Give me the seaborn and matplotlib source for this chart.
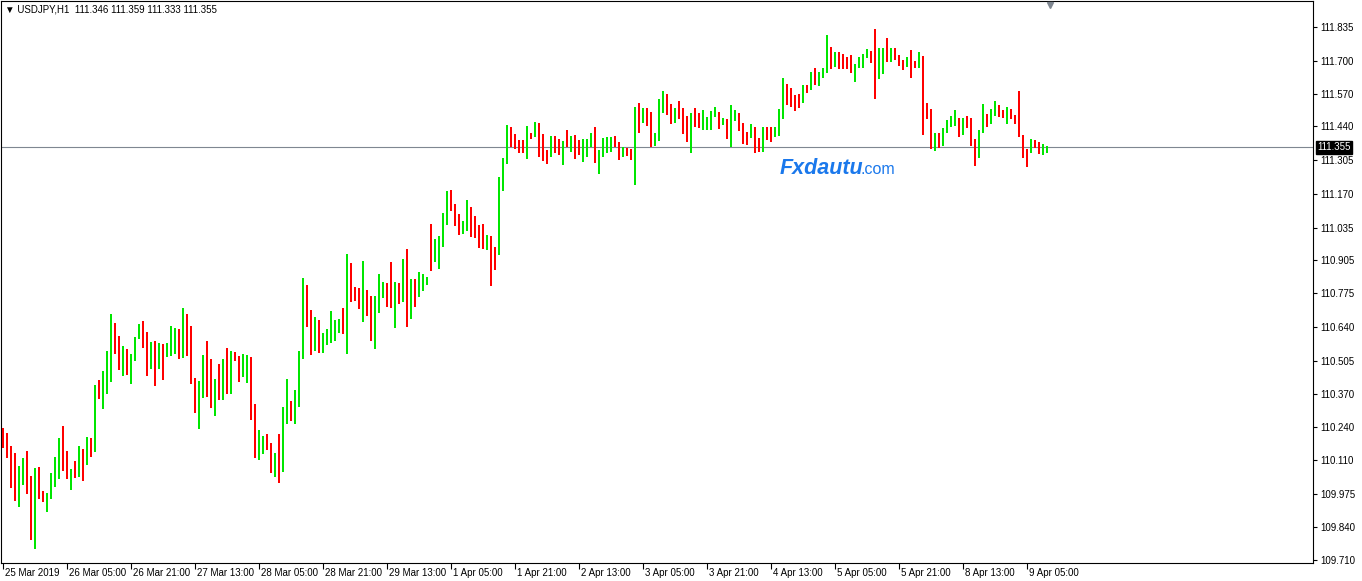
import numpy as np
import pandas as pd
import seaborn as sns
import matplotlib
matplotlib.use("Agg")
import matplotlib.pyplot as plt
from matplotlib import ticker, transforms

# USDJPY H1 candles
opens = [
    110.218, 110.166, 110.156, 110.069, 109.969, 110.062, 110.089, 110.042, 109.807, 110.053,
    109.968, 109.956, 109.966, 110.038, 110.055, 110.180, 110.089, 110.034, 110.057, 110.042,
    110.140, 110.130, 110.194, 110.142, 110.384, 110.369, 110.414, 110.473, 110.655, 110.579,
    110.489, 110.515, 110.461, 110.526, 110.595, 110.630, 110.611, 110.526, 110.571, 110.544,
    110.559, 110.540, 110.548, 110.600, 110.630, 110.537, 110.688, 110.538, 110.436, 110.305,
    110.417, 110.463, 110.398, 110.382, 110.392, 110.369, 110.491, 110.377, 110.523, 110.510,
    110.445, 110.490, 110.503, 110.308, 110.154, 110.171, 110.184, 110.168, 110.082, 110.119,
    110.075, 110.281, 110.331, 110.321, 110.351, 110.513, 110.778, 110.679, 110.551, 110.619,
    110.565, 110.570, 110.576, 110.587, 110.631, 110.659, 110.631, 110.850, 110.770, 110.770,
    110.724, 110.755, 110.747, 110.587, 110.736, 110.759, 110.798, 110.786, 110.752, 110.810,
    110.744, 110.858, 110.675, 110.825, 110.768, 110.806, 110.812, 110.998, 110.931, 110.939,
    110.987, 111.079, 111.153, 111.125, 111.085, 111.014, 111.046, 111.072, 111.050, 111.010,
    110.998, 110.949, 110.987, 110.938, 110.927, 111.193, 111.297, 111.424, 111.382, 111.382,
    111.355, 111.343, 111.410, 111.404, 111.450, 111.392, 111.345, 111.334, 111.361, 111.346,
    111.342, 111.378, 111.369, 111.391, 111.361, 111.354, 111.365, 111.374, 111.384, 111.302,
    111.329, 111.351, 111.359, 111.386, 111.375, 111.315, 111.333, 111.334, 111.310, 111.480,
    111.454, 111.501, 111.483, 111.362, 111.384, 111.511, 111.517, 111.508, 111.468, 111.508,
    111.493, 111.458, 111.411, 111.484, 111.480, 111.430, 111.426, 111.463, 111.485, 111.484,
    111.450, 111.464, 111.398, 111.481, 111.492, 111.431, 111.412, 111.400, 111.430, 111.371,
    111.355, 111.418, 111.414, 111.402, 111.404, 111.482, 111.575, 111.571, 111.556, 111.559,
    111.537, 111.601, 111.587, 111.642, 111.614, 111.637, 111.653, 111.735, 111.678, 111.721,
    111.705, 111.695, 111.686, 111.669, 111.673, 111.686, 111.718, 111.727, 111.714, 111.640,
    111.721, 111.739, 111.707, 111.734, 111.714, 111.697, 111.676, 111.682, 111.686, 111.673,
    111.719, 111.508, 111.503, 111.390, 111.406, 111.395, 111.424, 111.444, 111.450, 111.464,
    111.407, 111.468, 111.450, 111.362, 111.315, 111.420, 111.475, 111.452, 111.484, 111.516,
    111.495, 111.448, 111.489, 111.476, 111.451, 111.400, 111.346, 111.337, 111.382, 111.362,
    111.331, 111.346,
]
highs = [
    110.236, 110.216, 110.164, 110.137, 110.085, 110.117, 110.144, 110.045, 110.077, 110.081,
    109.984, 109.978, 110.055, 110.121, 110.196, 110.244, 110.144, 110.074, 110.105, 110.166,
    110.154, 110.202, 110.198, 110.408, 110.429, 110.463, 110.543, 110.691, 110.655, 110.603,
    110.563, 110.551, 110.533, 110.599, 110.651, 110.661, 110.619, 110.579, 110.582, 110.574,
    110.572, 110.575, 110.643, 110.634, 110.630, 110.715, 110.691, 110.643, 110.436, 110.424,
    110.529, 110.583, 110.511, 110.432, 110.491, 110.511, 110.555, 110.544, 110.539, 110.525,
    110.533, 110.526, 110.518, 110.331, 110.228, 110.204, 110.212, 110.178, 110.137, 110.212,
    110.319, 110.432, 110.344, 110.388, 110.543, 110.834, 110.806, 110.705, 110.680, 110.667,
    110.614, 110.631, 110.703, 110.667, 110.671, 110.715, 110.930, 110.894, 110.798, 110.794,
    110.902, 110.786, 110.763, 110.763, 110.850, 110.817, 110.814, 110.898, 110.818, 110.813,
    110.910, 110.950, 110.830, 110.829, 110.858, 110.852, 110.840, 111.050, 110.988, 111.002,
    111.092, 111.182, 111.185, 111.129, 111.088, 111.060, 111.145, 111.116, 111.080, 111.046,
    111.050, 111.006, 111.003, 110.959, 111.237, 111.313, 111.444, 111.438, 111.408, 111.384,
    111.385, 111.442, 111.411, 111.458, 111.454, 111.407, 111.345, 111.399, 111.402, 111.390,
    111.380, 111.424, 111.402, 111.406, 111.383, 111.390, 111.390, 111.411, 111.438, 111.345,
    111.394, 111.398, 111.396, 111.400, 111.378, 111.358, 111.351, 111.349, 111.515, 111.531,
    111.511, 111.512, 111.496, 111.411, 111.549, 111.580, 111.568, 111.527, 111.513, 111.539,
    111.512, 111.480, 111.491, 111.511, 111.491, 111.504, 111.475, 111.501, 111.515, 111.495,
    111.471, 111.468, 111.523, 111.503, 111.492, 111.451, 111.418, 111.450, 111.438, 111.391,
    111.438, 111.436, 111.435, 111.435, 111.507, 111.633, 111.610, 111.591, 111.564, 111.567,
    111.604, 111.606, 111.657, 111.670, 111.657, 111.673, 111.803, 111.757, 111.734, 111.737,
    111.726, 111.717, 111.723, 111.686, 111.717, 111.726, 111.746, 111.741, 111.827, 111.750,
    111.750, 111.790, 111.753, 111.753, 111.723, 111.702, 111.717, 111.743, 111.699, 111.737,
    111.719, 111.531, 111.507, 111.411, 111.412, 111.431, 111.464, 111.482, 111.504, 111.471,
    111.471, 111.482, 111.474, 111.388, 111.424, 111.529, 111.487, 111.508, 111.540, 111.524,
    111.504, 111.517, 111.508, 111.484, 111.581, 111.406, 111.349, 111.388, 111.383, 111.378,
    111.367, 111.359,
]
lows = [
    110.156, 110.118, 109.998, 109.946, 109.920, 110.009, 109.972, 109.791, 109.752, 109.952,
    109.942, 109.903, 109.952, 110.002, 110.031, 110.066, 110.031, 109.990, 110.037, 110.041,
    110.026, 110.090, 110.122, 110.142, 110.350, 110.313, 110.370, 110.421, 110.530, 110.469,
    110.443, 110.446, 110.413, 110.505, 110.592, 110.556, 110.445, 110.471, 110.405, 110.471,
    110.429, 110.521, 110.522, 110.533, 110.513, 110.517, 110.523, 110.413, 110.297, 110.233,
    110.356, 110.361, 110.317, 110.285, 110.348, 110.348, 110.372, 110.370, 110.503, 110.420,
    110.441, 110.417, 110.269, 110.118, 110.110, 110.131, 110.148, 110.058, 110.040, 110.018,
    110.062, 110.251, 110.265, 110.251, 110.319, 110.510, 110.640, 110.529, 110.543, 110.537,
    110.534, 110.567, 110.574, 110.584, 110.616, 110.612, 110.533, 110.740, 110.744, 110.712,
    110.660, 110.684, 110.584, 110.551, 110.696, 110.753, 110.720, 110.716, 110.636, 110.732,
    110.739, 110.640, 110.671, 110.720, 110.760, 110.782, 110.806, 110.864, 110.898, 110.870,
    110.959, 111.047, 111.103, 111.043, 111.004, 111.011, 111.020, 110.999, 110.994, 110.954,
    110.951, 110.946, 110.804, 110.866, 110.926, 111.180, 111.289, 111.355, 111.349, 111.334,
    111.331, 111.310, 111.387, 111.398, 111.318, 111.301, 111.290, 111.318, 111.331, 111.325,
    111.285, 111.358, 111.338, 111.310, 111.323, 111.298, 111.318, 111.357, 111.295, 111.248,
    111.318, 111.331, 111.338, 111.358, 111.305, 111.315, 111.319, 111.305, 111.206, 111.411,
    111.451, 111.442, 111.357, 111.362, 111.379, 111.491, 111.485, 111.450, 111.452, 111.468,
    111.410, 111.376, 111.334, 111.436, 111.434, 111.423, 111.424, 111.424, 111.478, 111.428,
    111.446, 111.390, 111.355, 111.459, 111.420, 111.369, 111.366, 111.391, 111.334, 111.337,
    111.338, 111.383, 111.375, 111.398, 111.400, 111.467, 111.524, 111.517, 111.501, 111.511,
    111.531, 111.572, 111.584, 111.604, 111.601, 111.633, 111.650, 111.669, 111.676, 111.669,
    111.669, 111.668, 111.650, 111.617, 111.670, 111.673, 111.713, 111.690, 111.548, 111.628,
    111.646, 111.697, 111.697, 111.705, 111.680, 111.664, 111.674, 111.632, 111.673, 111.670,
    111.406, 111.467, 111.347, 111.342, 111.351, 111.362, 111.411, 111.438, 111.442, 111.395,
    111.404, 111.431, 111.359, 111.282, 111.314, 111.411, 111.438, 111.447, 111.480, 111.478,
    111.474, 111.447, 111.468, 111.447, 111.395, 111.311, 111.278, 111.331, 111.351, 111.327,
    111.325, 111.333,
]
closes = [
    110.162, 110.158, 110.066, 109.966, 110.065, 110.089, 110.034, 109.807, 110.053, 109.966,
    109.957, 109.973, 110.037, 110.057, 110.180, 110.087, 110.034, 110.057, 110.039, 110.139,
    110.130, 110.191, 110.140, 110.384, 110.369, 110.416, 110.475, 110.659, 110.576, 110.489,
    110.519, 110.461, 110.529, 110.599, 110.627, 110.612, 110.525, 110.572, 110.542, 110.559,
    110.540, 110.551, 110.603, 110.631, 110.537, 110.685, 110.538, 110.433, 110.305, 110.420,
    110.467, 110.398, 110.382, 110.392, 110.370, 110.491, 110.377, 110.527, 110.509, 110.445,
    110.491, 110.503, 110.305, 110.154, 110.172, 110.182, 110.166, 110.082, 110.119, 110.078,
    110.288, 110.331, 110.321, 110.354, 110.515, 110.778, 110.664, 110.551, 110.619, 110.564,
    110.571, 110.579, 110.655, 110.635, 110.659, 110.631, 110.850, 110.764, 110.762, 110.724,
    110.756, 110.740, 110.587, 110.743, 110.759, 110.798, 110.780, 110.752, 110.810, 110.744,
    110.858, 110.676, 110.826, 110.768, 110.810, 110.814, 110.834, 110.927, 110.942, 110.990,
    111.086, 111.153, 111.123, 111.081, 111.014, 111.044, 111.068, 111.046, 111.011, 110.995,
    110.951, 110.990, 110.938, 110.927, 111.196, 111.299, 111.424, 111.377, 111.377, 111.350,
    111.345, 111.408, 111.402, 111.454, 111.390, 111.338, 111.334, 111.361, 111.345, 111.342,
    111.376, 111.369, 111.392, 111.357, 111.354, 111.367, 111.378, 111.383, 111.302, 111.334,
    111.354, 111.361, 111.383, 111.369, 111.318, 111.333, 111.329, 111.309, 111.480, 111.454,
    111.500, 111.481, 111.357, 111.388, 111.516, 111.516, 111.508, 111.470, 111.505, 111.489,
    111.458, 111.414, 111.484, 111.481, 111.468, 111.480, 111.464, 111.488, 111.492, 111.444,
    111.464, 111.394, 111.480, 111.493, 111.431, 111.410, 111.407, 111.428, 111.367, 111.354,
    111.416, 111.411, 111.402, 111.416, 111.484, 111.575, 111.569, 111.553, 111.545, 111.533,
    111.598, 111.585, 111.654, 111.614, 111.638, 111.654, 111.735, 111.676, 111.719, 111.701,
    111.697, 111.685, 111.670, 111.677, 111.688, 111.721, 111.729, 111.713, 111.641, 111.722,
    111.739, 111.706, 111.737, 111.714, 111.693, 111.676, 111.710, 111.672, 111.678, 111.719,
    111.504, 111.501, 111.387, 111.408, 111.396, 111.427, 111.447, 111.460, 111.462, 111.410,
    111.468, 111.447, 111.362, 111.314, 111.420, 111.478, 111.452, 111.491, 111.516, 111.487,
    111.484, 111.493, 111.472, 111.447, 111.398, 111.338, 111.335, 111.382, 111.361, 111.333,
    111.346, 111.355,
]

# time axis labels, one every 16 bars
time_labels = [
    "25 Mar 2019", "26 Mar 05:00", "26 Mar 21:00", "27 Mar 13:00", "28 Mar 05:00",
    "28 Mar 21:00", "29 Mar 13:00", "1 Apr 05:00", "1 Apr 21:00", "2 Apr 13:00",
    "3 Apr 05:00", "3 Apr 21:00", "4 Apr 13:00", "5 Apr 05:00", "5 Apr 21:00",
    "8 Apr 13:00", "9 Apr 05:00",
]
label_step = 16

price_ticks = [111.835, 111.700, 111.570, 111.440, 111.305, 111.170, 111.035, 110.905,
               110.775, 110.640, 110.505, 110.370, 110.240, 110.110, 109.975, 109.840, 109.710]

symbol = "USDJPY,H1"
bid = closes[-1]

df = pd.DataFrame({"open": opens, "high": highs, "low": lows, "close": closes})
df["bar"] = np.arange(len(df))
df["up"] = df["close"] >= df["open"]

BULL = "#00e600"
BEAR = "#ff0000"
colors = [BULL if u else BEAR for u in df["up"]]

sns.set_style("white")
plt.rcParams["font.family"] = ["Liberation Sans", "DejaVu Sans"]

W, H = 1362, 581
fig = plt.figure(figsize=(W / 100, H / 100), dpi=100)
fig.patch.set_facecolor("white")
ax = fig.add_axes([1 / W, 18 / H, 1312 / W, 562 / H])

# wicks as 1 px bars, bodies as 3 px bars
ax.bar(df["bar"], df["high"] - df["low"], bottom=df["low"], width=0.3,
       color=colors, lw=0, zorder=2)
body_lo = df[["open", "close"]].min(axis=1)
body_h = np.maximum((df["close"] - df["open"]).abs(), 0.004)
ax.bar(df["bar"], body_h, bottom=body_lo, width=0.7, color=colors, lw=0, zorder=3)

# bid line
ax.axhline(bid, color="#7f8791", lw=0.8, zorder=1)

ax.set_xlim(-0.5, 327.5)
ax.set_ylim(109.698, 111.939)

for s in ax.spines.values():
    s.set_visible(True)
    s.set_color("black")
    s.set_linewidth(0.8)

ax.yaxis.tick_right()
ax.set_yticks(price_ticks)
ax.yaxis.set_major_formatter(ticker.FormatStrFormatter("%.3f"))
ax.tick_params(axis="y", direction="out", length=3, width=0.8, pad=2,
               labelsize=7, colors="black", right=True, left=False)

xt = np.arange(len(time_labels)) * label_step
ax.set_xticks(xt)
ax.set_xticklabels([])
ax.tick_params(axis="x", direction="out", length=4, width=0.8, bottom=True, colors="black")
lab_tr = transforms.offset_copy(ax.get_xaxis_transform(), fig=fig, x=2, y=-5, units="dots")
for pos, lab in zip(xt, time_labels):
    ax.text(pos, 0, lab, transform=lab_tr, ha="left", va="top", fontsize=7, color="black")

ax.grid(False)

# current price tag on the price scale
ax.annotate(f"{bid:.3f}", xy=(1, bid), xycoords=("axes fraction", "data"),
            xytext=(3, 0), textcoords="offset points", ha="left", va="center",
            fontsize=7, color="white",
            bbox=dict(boxstyle="square,pad=0.15", fc="black", ec="black"))

# chart shift marker, just under the top edge
shift_tr = transforms.offset_copy(
    transforms.blended_transform_factory(ax.transData, ax.transAxes),
    fig=fig, x=0, y=-4, units="dots")
ax.plot(len(df) - 0.25, 1.0, marker="v", ms=5, color="#7f8791", lw=0,
        transform=shift_tr, clip_on=False, zorder=5)

# header
fig.text(5 / W, 1 - 9 / H,
         f"\u25bc {symbol}  {opens[-1]:.3f} {highs[-1]:.3f} {lows[-1]:.3f} {closes[-1]:.3f}",
         fontsize=7, va="center", ha="left", color="black")

# watermark
fig.text(780 / W, 1 - 174 / H, "Fxdautu", fontsize=15.5, fontweight="bold",
         fontstyle="italic", color="#1a78ec", va="baseline", ha="left")
fig.text(861 / W, 1 - 174 / H, ".com", fontsize=11.5, color="#1a78ec",
         va="baseline", ha="left")

fig.savefig("out.png", dpi=100, facecolor="white")
